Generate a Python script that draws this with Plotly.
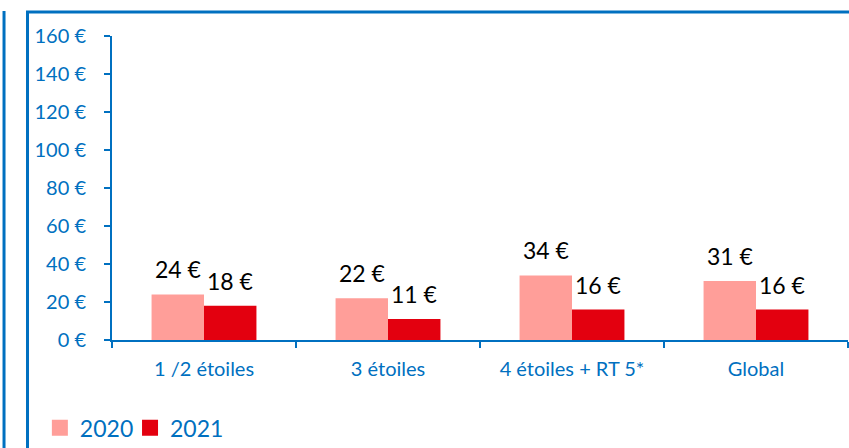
import plotly.graph_objects as go

categories = ["1 /2 étoiles", "3 étoiles", "4 étoiles + RT 5*", "Global"]
values_2020 = [24, 22, 34, 31]
values_2021 = [18, 11, 16, 16]
series_names = ["2020", "2021"]
colors = ["#FF9E99", "#E3000F"]
y_tickvals = [0, 20, 40, 60, 80, 100, 120, 140, 160]
y_ticktext = [f"{v} €" for v in y_tickvals]

BLUE = "#0070C0"
FONT = "Lato"

fig = go.Figure()
for name, vals, col, lg in zip(series_names, [values_2020, values_2021], colors, ["legend", "legend2"]):
    fig.add_trace(go.Bar(x=categories, y=vals, name=name, marker=dict(color=col, line=dict(width=0)),
                         showlegend=False))
    # legend proxy with larger square
    fig.add_trace(go.Scatter(x=[None], y=[None], mode="markers", name=name, legend=lg,
                             marker=dict(symbol="square", size=16, color=col)))

# data labels
for vals, shift in [(values_2020, -26), (values_2021, 26)]:
    for c, v in zip(categories, vals):
        fig.add_annotation(x=c, y=v, text=f"{v} €", showarrow=False, xshift=shift,
                           yanchor="bottom", yshift=9,
                           font=dict(family=FONT, size=23, color="black"))

# frames
fig.add_shape(type="rect", xref="paper", yref="paper", x0=-0.1148, x1=1.05, y0=-0.5, y1=1.079,
              line=dict(color=BLUE, width=3), layer="above")
fig.add_shape(type="line", xref="paper", yref="paper", x0=-0.1467, x1=-0.1467, y0=-0.5, y1=1.082,
              line=dict(color=BLUE, width=3))

legend_common = dict(orientation="h", xanchor="left", y=-0.289, yanchor="middle",
                     font=dict(family=FONT, size=23, color=BLUE), itemwidth=30,
                     bgcolor="rgba(0,0,0,0)")

fig.update_layout(
    width=849, height=448,
    margin=dict(l=112, r=1, t=36, b=108, autoexpand=False),
    paper_bgcolor="white", plot_bgcolor="white",
    barmode="group", bargap=0.43, bargroupgap=0,
    font=dict(family=FONT, color=BLUE),
    legend=dict(x=-0.098, **legend_common),
    legend2=dict(x=0.0245, **legend_common),
    xaxis=dict(showline=True, linecolor=BLUE, linewidth=2, ticks="outside", tickson="boundaries",
               ticklen=6, tickcolor=BLUE, tickwidth=2, tickfont=dict(family=FONT, size=20, color=BLUE),
               showgrid=False, zeroline=False, ticklabelstandoff=10, automargin=False),
    yaxis=dict(range=[0, 160], tickvals=y_tickvals, ticktext=y_ticktext, showline=True,
               linecolor=BLUE, linewidth=2, ticks="outside", ticklen=6, tickcolor=BLUE, tickwidth=2,
               tickfont=dict(family=FONT, size=20, color=BLUE), showgrid=False, zeroline=False,
               ticklabelstandoff=14, automargin=False),
)

fig.write_html("out.html", config={"displayModeBar": False},
               post_script="document.body.style.margin='0';document.body.style.overflow='hidden';")
